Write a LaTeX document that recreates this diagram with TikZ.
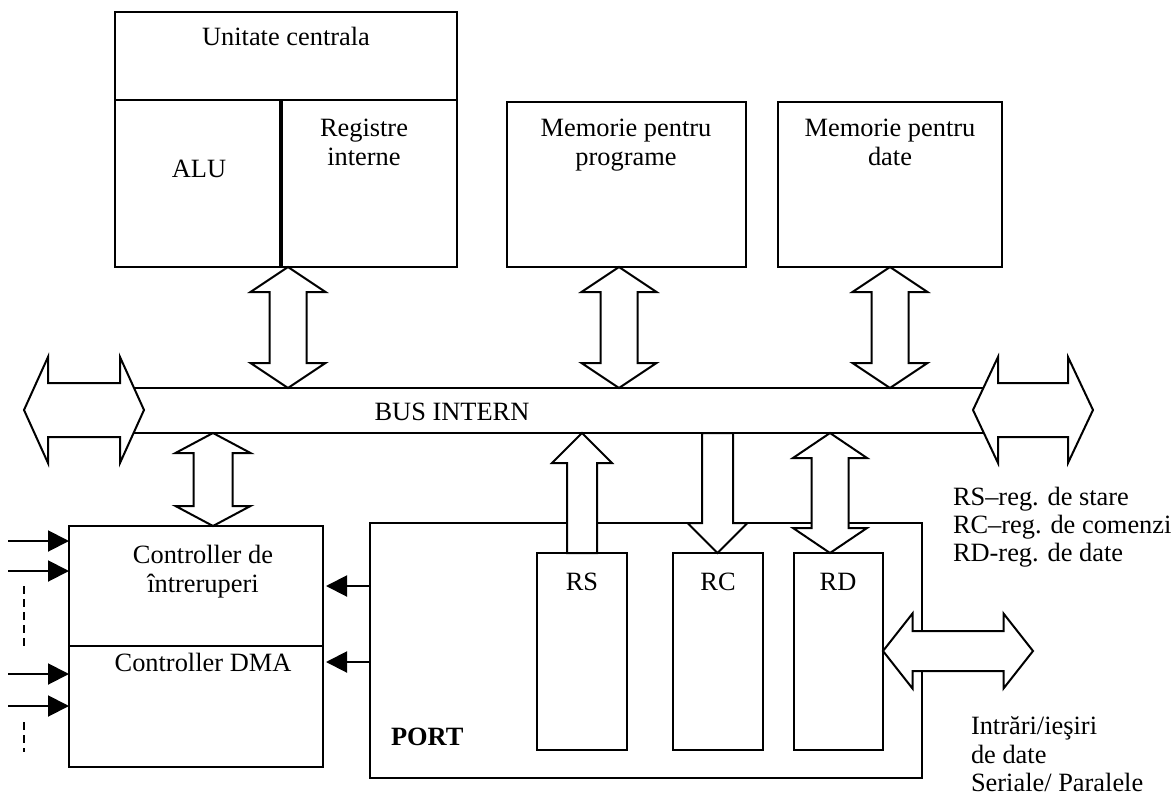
\documentclass[tikz,border=0pt]{standalone}
\usepackage{fontspec}
\setmainfont{Liberation Serif}
\usetikzlibrary{calc,arrows.meta}

% vertical double block arrow: top tip, bottom tip, head length, half head width, half shaft width
\newcommand\dblV[5]{\draw[blk] (#1) -- ($(#1)+(#4,#3)$) -- ($(#1)+(#5,#3)$) -- ($(#2)+(#5,-#3)$) -- ($(#2)+(#4,-#3)$) -- (#2) -- ($(#2)+(-#4,-#3)$) -- ($(#2)+(-#5,-#3)$) -- ($(#1)+(-#5,#3)$) -- ($(#1)+(-#4,#3)$) -- cycle;}
% horizontal double block arrow: left tip, right tip, head length, half head width, half shaft width
\newcommand\dblH[5]{\draw[blk] (#1) -- ($(#1)+(#3,-#4)$) -- ($(#1)+(#3,-#5)$) -- ($(#2)+(-#3,-#5)$) -- ($(#2)+(-#3,-#4)$) -- (#2) -- ($(#2)+(-#3,#4)$) -- ($(#2)+(-#3,#5)$) -- ($(#1)+(#3,#5)$) -- ($(#1)+(#3,#4)$) -- cycle;}
% upward block arrow: tip, tail, head length, half head width, half shaft width
\newcommand\upArr[5]{\draw[blk] (#1) -- ($(#1)+(#4,#3)$) -- ($(#1)+(#5,#3)$) -- ($(#2)+(#5,0)$) -- ($(#2)+(-#5,0)$) -- ($(#1)+(-#5,#3)$) -- ($(#1)+(-#4,#3)$) -- cycle;}
% downward block arrow: tail, tip, head length, half head width, half shaft width
\newcommand\downArr[5]{\draw[blk] ($(#1)+(-#5,0)$) -- ($(#1)+(#5,0)$) -- ($(#2)+(#5,-#3)$) -- ($(#2)+(#4,-#3)$) -- (#2) -- ($(#2)+(-#4,-#3)$) -- ($(#2)+(-#5,-#3)$) -- cycle;}

\begin{document}
\begin{tikzpicture}[x=1pt,y=-1pt,
  line width=2pt, line join=miter,
  box/.style={draw, line width=2pt, anchor=north west, inner sep=0pt, outer sep=0pt},
  lbl/.style={inner sep=0pt, anchor=base, font=\fontsize{26.4}{29}\selectfont},
  lbll/.style={lbl, anchor=base west},
  blk/.style={draw, fill=white, line width=2pt, line join=miter},
  feed/.style={-{Triangle[length=21pt,width=21pt]}},
]
\useasboundingbox (0,0) rectangle (1171,798);

% central unit
\node[box, minimum width=342pt, minimum height=88pt] (cpu) at (115,12) {};
\node[box, minimum width=166pt, minimum height=167pt] (alu) at (115,100) {};
\node[box, minimum width=176pt, minimum height=167pt] (regs) at (281,100) {};
\draw[line width=3.5pt] (alu.north east) -- (alu.south east);

% memories
\node[box, minimum width=239pt, minimum height=165pt] (memP) at (507,102) {};
\node[box, minimum width=224pt, minimum height=165pt] (memD) at (778,102) {};

% internal bus
\coordinate (busTL) at (125,388);
\coordinate (busTR) at (990,388);
\coordinate (busBL) at (125,433);
\coordinate (busBR) at (990,433);
\draw (busTL) -- (busTR);
\draw (busBL) -- (busBR);

% controllers
\node[box, minimum width=254pt, minimum height=120pt] (ctrlI) at (69,526) {};
\node[box, minimum width=254pt, minimum height=121pt] (ctrlD) at (69,646) {};

% port with its registers
\node[box, minimum width=552pt, minimum height=255pt] (port) at (370,523) {};
\node[box, minimum width=90pt, minimum height=197pt] (rs) at (537,553) {};
\node[box, minimum width=90pt, minimum height=197pt] (rc) at (673,553) {};
\node[box, minimum width=89pt, minimum height=197pt] (rd) at (794,553) {};

% block arrow end points
\coordinate (cpuA) at (288,267);   \coordinate (cpuB) at (288,388);
\coordinate (mpA) at (619,267);    \coordinate (mpB) at (619,388);
\coordinate (mdA) at (890,267);    \coordinate (mdB) at (890,388);
\coordinate (ctA) at (213,433);    \coordinate (ctB) at (213,526);
\coordinate (rsA) at (582,433);    \coordinate (rsB) at (582,553);
\coordinate (rcA) at (717.5,433);  \coordinate (rcB) at (717.5,553);
\coordinate (rdA) at (830,433);    \coordinate (rdB) at (830,553);
\coordinate (blA) at (24,410);     \coordinate (blB) at (144,410);
\coordinate (brA) at (973,410);    \coordinate (brB) at (1093,410);
\coordinate (poA) at (883,651);    \coordinate (poB) at (1033,651);

% block arrows
\dblV{cpuA}{cpuB}{25}{37.5}{18.5}
\dblV{mpA}{mpB}{25}{37.5}{18.5}
\dblV{mdA}{mdB}{25}{37.5}{18.5}
\dblV{ctA}{ctB}{20}{37.5}{19.5}
\upArr{rsA}{rsB}{30}{30}{15}
\downArr{rcA}{rcB}{30}{30}{15.5}
\dblV{rdA}{rdB}{25}{37}{18.5}
\dblH{blA}{blB}{24}{53}{27}
\dblH{brA}{brB}{25}{53}{27}
\dblH{poA}{poB}{29.5}{37.5}{20}

% interrupt and DMA request lines
\coordinate (in1) at (8,541);  \coordinate (in1e) at (69,541);
\coordinate (in2) at (8,571);  \coordinate (in2e) at (69,571);
\coordinate (in3) at (8,674);  \coordinate (in3e) at (69,674);
\coordinate (in4) at (8,706);  \coordinate (in4e) at (69,706);
\draw[feed] (in1) -- (in1e);
\draw[feed] (in2) -- (in2e);
\draw[feed] (in3) -- (in3e);
\draw[feed] (in4) -- (in4e);
\coordinate (d1a) at (24,586); \coordinate (d1b) at (24,646);
\coordinate (d2a) at (24,722); \coordinate (d2b) at (24,752);
\draw[dash pattern=on 8pt off 5pt] (d1a) -- (d1b);
\draw[dash pattern=on 8pt off 5pt] (d2a) -- (d2b);

% port requests to the controllers
\coordinate (pr1) at (370,586); \coordinate (pr1e) at (326,586);
\coordinate (pr2) at (370,662); \coordinate (pr2e) at (326,662);
\draw[feed] (pr1) -- (pr1e);
\draw[feed] (pr2) -- (pr2e);

% labels
\node[lbl] (tcpu) at (286,45) {Unitate centrala};
\node[lbl] (talu) at (199,177) {ALU};
\node[lbl] (treg1) at (364,136) {Registre};
\node[lbl] (treg2) at (364,165) {interne};
\node[lbl] (tmp1) at (626,136) {Memorie pentru};
\node[lbl] (tmp2) at (626,165) {programe};
\node[lbl] (tmd1) at (890,136) {Memorie pentru};
\node[lbl] (tmd2) at (890,165) {date};
\node[lbl] (tbus) at (452,420) {BUS INTERN};
\node[lbl] (tci1) at (203,563) {Controller de};
\node[lbl] (tci2) at (203,592) {întreruperi};
\node[lbl] (tdma) at (203,671) {Controller DMA};
\node[lbl] (trs) at (582,590) {RS};
\node[lbl] (trc) at (718,590) {RC};
\node[lbl] (trd) at (838,590) {RD};
\node[lbll, font=\fontsize{26.4}{29}\selectfont\bfseries] (tport) at (390,745) {PORT};
\node[lbll] (n1) at (952,505) {RS–reg. de stare};
\node[lbll] (n2) at (952,533) {RC–reg. de comenzi};
\node[lbll] (n3) at (952,561) {RD-reg. de date};
\node[lbll] (io1) at (970,734) {Intrări/ieşiri};
\node[lbll] (io2) at (970,763) {de date};
\node[lbll] (io3) at (970,791) {Seriale/ Paralele};
\end{tikzpicture}
\end{document}
